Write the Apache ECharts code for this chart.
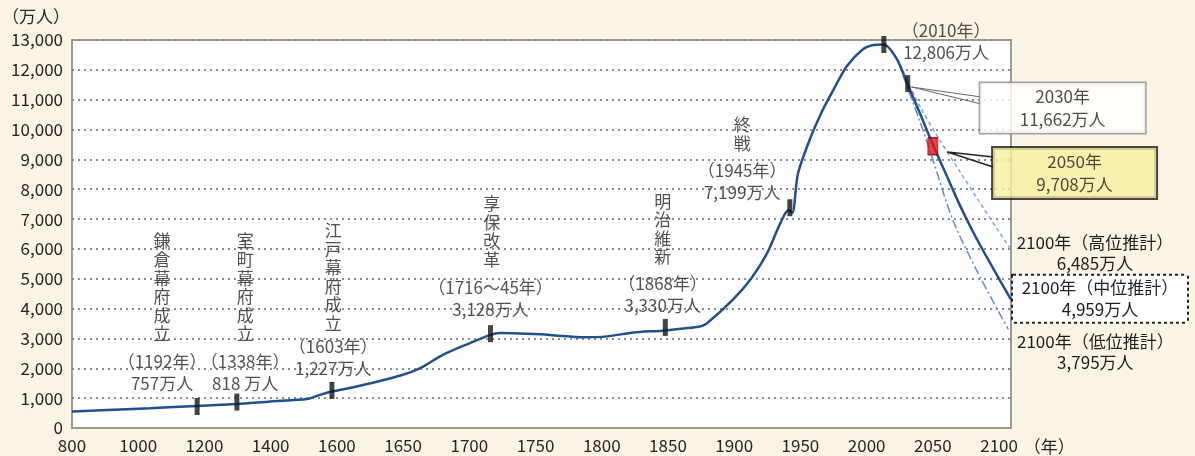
<!DOCTYPE html>
<html>
<head>
<meta charset="utf-8">
<script src="https://cdn.jsdelivr.net/npm/echarts@6/dist/echarts.min.js"></script>
<style>
  html, body { margin: 0; padding: 0; background: #fbf3e4; }
  #chart { width: 1195px; height: 456px; }
</style>
</head>
<body>
<div id="chart"></div>
<script>
// x axis is not linear: equal spacing between these tick years
const tickYears = [800, 1000, 1200, 1400, 1600, 1650, 1700, 1750, 1800, 1850, 1900, 1950, 2000, 2050, 2100];

// population (万人), historical + medium projection
const mainYears = [800, 1036, 1178, 1298, 1400, 1510, 1549, 1585, 1615, 1648, 1663, 1680, 1700, 1716, 1723, 1761, 1786, 1804, 1824, 1848, 1874, 1879, 1899, 1913, 1925, 1935, 1941, 1944, 1948, 1957, 1967, 1975, 1985, 1997, 2005, 2013, 2023, 2031, 2040, 2050, 2060, 2070, 2080, 2090, 2100, 2109];
const mainValues = [550, 665, 740, 805, 890, 970, 1110, 1220, 1390, 1760, 2010, 2450, 2835, 3120, 3180, 3120, 3040, 3070, 3200, 3270, 3400, 3490, 4300, 5020, 5870, 6880, 7300, 7210, 8500, 9660, 10670, 11340, 12120, 12680, 12830, 12850, 12350, 11510, 10570, 9500, 8500, 7500, 6600, 5780, 5000, 4300];

const highYears = [2023, 2040, 2055, 2070, 2084, 2109];
const highValues = [12350, 10800, 9660, 8620, 7650, 5970];

const lowYears = [2023, 2040, 2050, 2065, 2084, 2107];
const lowValues = [12350, 10300, 8990, 6980, 5200, 3300];

// event markers
const markerYears = [1178, 1298, 1585, 1716, 1848, 1942, 2013, 2031];
const markerValues = [720, 870, 1260, 3160, 3370, 7380, 12850, 11540];
const redYears = [2050];
const redValues = [9440];

// event annotations
const eventTitles = ['鎌倉幕府成立', '室町幕府成立', '江戸幕府成立', '享保改革', '明治維新', '終戦'];
const titleYears = [1072, 1323, 1589, 1717, 1846, 1906];
const titleValues = [4707, 4707, 5059, 6584, 6668, 9851];

const eventNotes = ['（1192年）\n757万人', '（1338年）\n818 万人', '（1603年）\n1,227万人', '（1716～45年）\n3,128万人', '（1868年）\n3,330万人', '（1945年）\n7,199万人', '（2010年）\n12,806万人'];
const noteYears = [1072, 1323, 1589, 1716, 1846, 1906, 2060];
const noteValues = [1843, 1843, 2362, 4322, 4473, 8242, 12960];

// callouts
const box2030 = ['2030年', '11,662万人'];
const box2030Pos = [2148, 10722];
const lead2030Years = [2086.6, 2034, 2086.6];
const lead2030Values = [11090, 11425, 10856];

const box2050 = ['2050年', '9,708万人'];
const box2050Pos = [2157, 8544];
const lead2050Years = [2095.6, 2061, 2095.6];
const lead2050Values = [9080, 9247, 8745];

const endHigh = ['2100年（高位推計）', '6,485万人'];
const endMid = ['2100年（中位推計）', '4,959万人'];
const endLow = ['2100年（低位推計）', '3,795万人'];

const FONT = '"Noto Sans CJK JP", "Noto Sans", sans-serif';
const TEXT = '#262626';

const toIdx = (year) => {
  const n = tickYears.length;
  for (let i = 0; i < n - 1; i++) {
    if (year <= tickYears[i + 1]) {
      return i + (year - tickYears[i]) / (tickYears[i + 1] - tickYears[i]);
    }
  }
  return (n - 1) + (year - tickYears[n - 1]) / (tickYears[n - 1] - tickYears[n - 2]);
};

const pairs = (xs, ys) => xs.map((x, i) => [toIdx(x), ys[i]]);

const twoLines = (lines, width, lh) => ({
  formatter: lines.map(t => `{t|${t}}`).join('\n'),
  rich: { t: { width, align: 'center', lineHeight: lh, fontSize: 17, fontFamily: FONT, color: '#1e1e1e' } }
});

const chart = echarts.init(document.getElementById('chart'));

const option = {
  backgroundColor: '#fbf3e4',
  animation: false,
  textStyle: { fontFamily: FONT },
  grid: {
    left: 72, right: 184, top: 40, bottom: 28,
    show: true, backgroundColor: '#fff', borderColor: '#9a9a9a', borderWidth: 2,
    outerBoundsMode: 'none'
  },
  xAxis: {
    type: 'value', min: 0, max: 14.18, interval: 1,
    name: '（年）', nameLocation: 'end', nameGap: 8,
    nameTextStyle: { color: TEXT, fontSize: 17, fontFamily: FONT, verticalAlign: 'top', lineHeight: 38 },
    axisLine: { show: true, lineStyle: { color: '#9a9a9a', width: 2 } },
    axisTick: { show: false },
    splitLine: { show: false },
    axisLabel: {
      color: TEXT, fontSize: 17, fontFamily: FONT, margin: 9,
      formatter: (v) => Number.isInteger(v) && tickYears[v] !== undefined ? String(tickYears[v]) : ''
    }
  },
  yAxis: {
    type: 'value', min: 0, max: 13000, interval: 1000,
    name: '（万人）', nameLocation: 'end', nameGap: 15,
    nameTextStyle: { color: TEXT, fontSize: 17, fontFamily: FONT, padding: [0, 72, 0, 0] },
    axisLine: { show: false },
    axisTick: { show: false },
    splitLine: { show: true, lineStyle: { color: '#8c8c8c', width: 2, type: [2, 4] } },
    axisLabel: {
      color: TEXT, fontSize: 17, fontFamily: FONT, margin: 9,
      formatter: (v) => v.toLocaleString('en-US')
    }
  },
  series: [
    {
      type: 'line', name: 'high', data: pairs(highYears, highValues),
      showSymbol: false, smooth: 0.3, clip: false,
      lineStyle: { color: '#7ea6d6', width: 1.5, type: [4, 3] },
      endLabel: { show: true, distance: 2, offset: [0, 3], ...twoLines(endHigh, 164, 21) }
    },
    {
      type: 'line', name: 'low', data: pairs(lowYears, lowValues),
      showSymbol: false, smooth: 0.3, clip: false,
      lineStyle: { color: '#5f8ec6', width: 1.5, type: [9, 3, 2, 3] },
      endLabel: { show: true, distance: 5, offset: [0, 23], ...twoLines(endLow, 164, 21) }
    },
    {
      type: 'line', name: 'main', data: pairs(mainYears, mainValues),
      showSymbol: false, smooth: 0.25, clip: false,
      lineStyle: { color: '#21508f', width: 2.5 },
      endLabel: {
        show: true, distance: 2, offset: [0, -1],
        backgroundColor: '#fff', borderColor: '#222', borderWidth: 2, borderType: [3, 3],
        padding: [1, 4],
        ...twoLines(endMid, 166, 22)
      }
    },
    {
      type: 'line', data: pairs(lead2030Years, lead2030Values), showSymbol: false, silent: true, clip: false,
      lineStyle: { color: '#666', width: 1 }, z: 4
    },
    {
      type: 'line', data: pairs(lead2050Years, lead2050Values), showSymbol: false, silent: true, clip: false,
      lineStyle: { color: '#222', width: 1.5 }, z: 4
    },
    {
      type: 'scatter', data: pairs(markerYears, markerValues), symbol: 'rect', symbolSize: [5, 17],
      itemStyle: { color: '#151515' }, z: 6, clip: false
    },
    {
      type: 'scatter', data: pairs(redYears, redValues), symbol: 'rect', symbolSize: [10, 17],
      itemStyle: { color: '#e3141c', borderColor: '#7a0a0a', borderWidth: 1 }, z: 6, clip: false
    },
    {
      type: 'scatter', symbolSize: 1, itemStyle: { color: 'transparent' }, clip: false, silent: true, z: 7,
      data: eventTitles.map((t, i) => ({ value: [toIdx(titleYears[i]), titleValues[i]], name: t })),
      label: {
        show: true, position: 'inside', color: TEXT, fontSize: 17, fontFamily: FONT, lineHeight: 18.6, align: 'center',
        formatter: (p) => p.name.split('').join('\n')
      }
    },
    {
      type: 'scatter', symbolSize: 1, itemStyle: { color: 'transparent' }, clip: false, silent: true, z: 7,
      data: eventNotes.map((t, i) => ({ value: [toIdx(noteYears[i]), noteValues[i]], name: t })),
      label: {
        show: true, position: 'inside', color: TEXT, fontSize: 17, fontFamily: FONT, lineHeight: 22, align: 'center',
        formatter: (p) => p.name
      }
    },
    {
      type: 'scatter', symbolSize: 1, itemStyle: { color: 'transparent' }, clip: false, silent: true, z: 8,
      data: [[toIdx(box2030Pos[0]), box2030Pos[1]]],
      label: {
        show: true, position: 'inside', backgroundColor: '#fff', borderColor: '#8c8c8c', borderWidth: 1.5,
        padding: [2, 4], ...twoLines(box2030, 157, 23)
      }
    },
    {
      type: 'scatter', symbolSize: 1, itemStyle: { color: 'transparent' }, clip: false, silent: true, z: 8,
      data: [[toIdx(box2050Pos[0]), box2050Pos[1]]],
      label: {
        show: true, position: 'inside', backgroundColor: '#f7f0a0', borderColor: '#1a1a1a', borderWidth: 2,
        padding: [2, 4], ...twoLines(box2050, 155, 23)
      }
    }
  ]
};

chart.setOption(option);
window.addEventListener('resize', () => chart.resize());
</script>
</body>
</html>
